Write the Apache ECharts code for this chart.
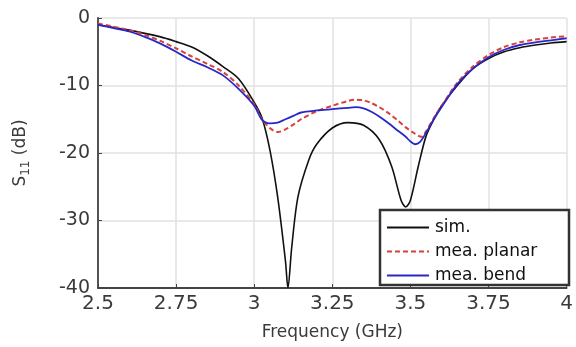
<!DOCTYPE html>
<html>
<head>
<meta charset="utf-8">
<script src="https://cdn.jsdelivr.net/npm/echarts@6/dist/echarts.min.js"></script>
<style>
  html, body { margin: 0; padding: 0; background: #fff; }
  #chart { width: 576px; height: 347px; }
</style>
</head>
<body>
<div id="chart"></div>
<script>
// frequency (GHz) and S11 (dB)
var simFreq = [2.5, 2.6, 2.7, 2.75, 2.8, 2.85, 2.9, 2.95, 3.0, 3.025, 3.05, 3.075, 3.1, 3.108, 3.12, 3.14, 3.175, 3.2, 3.25, 3.3, 3.35, 3.4, 3.44, 3.47, 3.485, 3.5, 3.525, 3.55, 3.575, 3.6, 3.65, 3.7, 3.75, 3.8, 3.85, 3.9, 3.95, 4.0];
var simS11 = [-1.0, -1.8, -2.8, -3.5, -4.3, -5.6, -7.2, -9.0, -12.5, -14.8, -19.5, -26.5, -36, -40, -34, -26.5, -21, -18.7, -16.3, -15.5, -15.9, -18, -22, -27, -28, -27, -22, -17.5, -15, -13, -10, -7.5, -6, -5, -4.4, -4.0, -3.7, -3.5];

var planarFreq = [2.5, 2.6, 2.65, 2.7, 2.75, 2.8, 2.85, 2.9, 2.95, 3.0, 3.025, 3.05, 3.075, 3.1, 3.125, 3.15, 3.2, 3.25, 3.3, 3.325, 3.35, 3.375, 3.4, 3.43, 3.46, 3.485, 3.51, 3.535, 3.55, 3.575, 3.6, 3.65, 3.7, 3.75, 3.8, 3.85, 3.9, 3.95, 4.0];
var planarS11 = [-0.8, -1.8, -2.5, -3.4, -4.5, -5.7, -6.8, -8.0, -10.0, -12.8, -15.0, -16.3, -16.9, -16.5, -15.8, -15.0, -13.8, -13.0, -12.3, -12.1, -12.2, -12.6, -13.2, -14.1, -15.2, -16.2, -17.0, -17.6, -16.8, -14.8, -13.0, -9.6, -7.2, -5.5, -4.3, -3.6, -3.2, -2.9, -2.7];

var bendFreq = [2.5, 2.55, 2.6, 2.65, 2.7, 2.75, 2.8, 2.85, 2.9, 2.95, 3.0, 3.025, 3.05, 3.075, 3.1, 3.125, 3.15, 3.2, 3.25, 3.3, 3.325, 3.35, 3.375, 3.4, 3.43, 3.46, 3.485, 3.5, 3.515, 3.53, 3.55, 3.575, 3.6, 3.65, 3.7, 3.75, 3.8, 3.85, 3.9, 3.95, 4.0];
var bendS11 = [-1.0, -1.5, -2.0, -2.8, -3.8, -5.0, -6.3, -7.3, -8.5, -10.5, -13.0, -15.1, -15.6, -15.5, -15.0, -14.5, -14.0, -13.7, -13.5, -13.3, -13.2, -13.4, -13.9, -14.6, -15.6, -16.7, -17.6, -18.3, -18.7, -18.4, -17.0, -15.0, -13.2, -9.8, -7.5, -5.8, -4.7, -4.0, -3.6, -3.3, -3.0];

var seriesNames = ['sim.', 'mea. planar', 'mea. bend'];

function pairs(xs, ys) {
    return xs.map(function (x, i) { return [x, ys[i]]; });
}

var font = 'DejaVu Sans';
var textColor = '#3a3a3a';

var chart = echarts.init(document.getElementById('chart'));

var option = {
    animation: false,
    grid: { left: 98, top: 18, right: 7, bottom: 59 },
    // legend frame (matlab style box)
    graphic: [{
        type: 'rect',
        z: 50,
        shape: { x: 380, y: 210, width: 189, height: 75 },
        style: { fill: '#fff', stroke: '#333', lineWidth: 2.5 }
    }],
    legend: {
        data: seriesNames,
        orient: 'vertical',
        left: 386,
        top: 219,
        z: 60,
        padding: 0,
        itemWidth: 42,
        itemHeight: 14,
        itemGap: 7,
        itemStyle: { opacity: 0 },
        textStyle: { fontFamily: font, fontSize: 17, color: '#111', padding: [0, 0, 0, 1] }
    },
    xAxis: {
        type: 'value',
        min: 2.5,
        max: 4,
        interval: 0.25,
        name: 'Frequency (GHz)',
        nameLocation: 'middle',
        nameGap: 36,
        nameTextStyle: { fontFamily: font, fontSize: 17, color: textColor },
        axisLine: { onZero: false, lineStyle: { color: '#444', width: 1.8 } },
        axisTick: { inside: true, length: 4, lineStyle: { color: '#444' } },
        axisLabel: { fontFamily: font, fontSize: 20, color: textColor, margin: 6 },
        splitLine: { show: true, lineStyle: { color: '#e2e2e2', width: 1.5 } }
    },
    yAxis: {
        type: 'value',
        min: -40,
        max: 0,
        interval: 10,
        name: 'S{sub|11} (dB)',
        nameLocation: 'middle',
        nameGap: 66,
        nameTextStyle: {
            fontFamily: font, fontSize: 17, color: textColor,
            rich: { sub: { fontFamily: font, fontSize: 12, color: textColor, padding: [10, 0, 0, 0] } }
        },
        axisLine: { show: true, onZero: false, lineStyle: { color: '#444', width: 1.8 } },
        axisTick: { show: true, inside: true, length: 4, lineStyle: { color: '#444' } },
        axisLabel: { fontFamily: font, fontSize: 19, color: textColor, margin: 8 },
        splitLine: { show: true, lineStyle: { color: '#e2e2e2', width: 1.5 } }
    },
    series: [
        {
            name: seriesNames[0],
            type: 'line',
            data: pairs(simFreq, simS11),
            symbol: 'none',
            smooth: 0.3,
            z: 3,
            lineStyle: { color: '#111', width: 1.6 },
            itemStyle: { color: '#111' }
        },
        {
            name: seriesNames[1],
            type: 'line',
            data: pairs(planarFreq, planarS11),
            symbol: 'none',
            smooth: 0.3,
            z: 4,
            lineStyle: { color: '#d8403a', width: 2, type: [5, 3] },
            itemStyle: { color: '#d8403a' }
        },
        {
            name: seriesNames[2],
            type: 'line',
            data: pairs(bendFreq, bendS11),
            symbol: 'none',
            smooth: 0.3,
            z: 5,
            lineStyle: { color: '#2828c8', width: 1.8 },
            itemStyle: { color: '#2828c8' }
        }
    ]
};

chart.setOption(option);
</script>
</body>
</html>
